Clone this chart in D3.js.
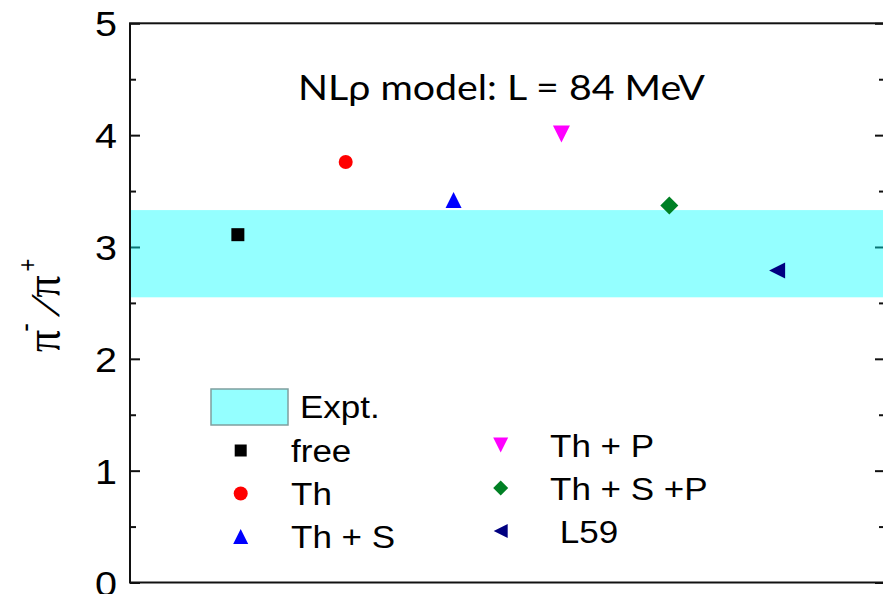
<!DOCTYPE html>
<html>
<head>
<meta charset="utf-8">
<script src="https://cdn.jsdelivr.net/npm/d3@7"></script>
<style>
  html, body { margin: 0; padding: 0; background: #fff; }
  svg { display: block; }
  text { font-family: "Liberation Sans", Arial, sans-serif; fill: #000; }
</style>
</head>
<body>
<svg id="chart" width="883" height="594"></svg>
<script>
// Pion ratio pi-/pi+ for the NLrho model under different treatments
const categories = ["free", "Th", "Th + S", "Th + P", "Th + S +P", "L59"];
const positions = [1, 2, 3, 4, 5, 6];
const ratios = [3.11, 3.76, 3.42, 4.01, 3.37, 2.79];
const symbols = ["square", "circle", "up", "down", "diamond", "left"];
const colors = ["#000000", "#ff0000", "#0000ff", "#ff00ff", "#008024", "#000080"];
const exptBand = [2.55, 3.33];
const yMajorTicks = [0, 1, 2, 3, 4, 5];
const yMinorTicks = [0.5, 1.5, 2.5, 3.5, 4.5];
const titleText = "NLρ model: L = 84 MeV";

// text in this figure is drawn slightly widened
const widen = 1.13;

const svg = d3.select("#chart");

const x = d3.scaleLinear().domain([0, 7]).range([130, 885]);
const y = d3.scaleLinear().domain([0, 5]).range([582.5, 23.3]);

// marker shapes, sized in pixels (s = bounding width)
function markerPath(kind, s) {
  const h = s / 2;
  const p = d3.path();
  if (kind === "square") {
    p.rect(-h, -h, s, s);
  } else if (kind === "circle") {
    p.arc(0, 0, h, 0, 2 * Math.PI);
  } else if (kind === "up") {
    p.moveTo(0, -h); p.lineTo(h, h); p.lineTo(-h, h); p.closePath();
  } else if (kind === "down") {
    p.moveTo(-h, -h); p.lineTo(h, -h); p.lineTo(0, h); p.closePath();
  } else if (kind === "diamond") {
    p.moveTo(0, -h); p.lineTo(h, 0); p.lineTo(0, h); p.lineTo(-h, 0); p.closePath();
  } else if (kind === "left") {
    p.moveTo(-h, 0); p.lineTo(h, -h); p.lineTo(h, h); p.closePath();
  }
  return p.toString();
}
const plotSize = { square: 13, circle: 14, up: 16, down: 17, diamond: 18, left: 16 };
const legendSize = { square: 12, circle: 14, up: 15, down: 15, diamond: 15, left: 14 };

// axes: left with labels, right mirrored, ticks pointing inward
const axisG = svg.append("g");
const leftMajor = d3.axisLeft(y).tickValues(yMajorTicks).tickSizeInner(-10).tickSizeOuter(0).tickPadding(13 / widen).tickFormat(d3.format("d"));
const leftMinor = d3.axisLeft(y).tickValues(yMinorTicks).tickSizeInner(-6).tickSizeOuter(0).tickFormat("");
const rightMajor = d3.axisRight(y).tickValues(yMajorTicks).tickSizeInner(-10).tickSizeOuter(0).tickFormat("");
const rightMinor = d3.axisRight(y).tickValues(yMinorTicks).tickSizeInner(-6).tickSizeOuter(0).tickFormat("");

function styleAxis(g) {
  g.select(".domain").remove();
  g.selectAll(".tick line").attr("stroke", "#111").attr("stroke-width", 2);
  g.selectAll(".tick text")
    .style("font-size", "35px")
    .attr("fill", "#111")
    .attr("dy", "0.36em")
    .attr("transform", `scale(${widen},1)`);
}
axisG.append("g").attr("transform", `translate(${x(0)},0)`).call(leftMajor).call(styleAxis);
axisG.append("g").attr("transform", `translate(${x(0)},0)`).call(leftMinor).call(styleAxis);
axisG.append("g").attr("transform", `translate(${x(7)},0)`).call(rightMajor).call(styleAxis);
axisG.append("g").attr("transform", `translate(${x(7)},0)`).call(rightMinor).call(styleAxis);

// frame
svg.append("rect")
  .attr("x", x(0)).attr("y", y(5))
  .attr("width", x(7) - x(0)).attr("height", y(0) - y(5))
  .attr("fill", "none").attr("stroke", "#111").attr("stroke-width", 2);

// experimental band
svg.append("rect")
  .attr("x", x(0) + 1).attr("y", y(exptBand[1]))
  .attr("width", x(7) - x(0) - 2).attr("height", y(exptBand[0]) - y(exptBand[1]))
  .attr("fill", "#00ffff").attr("fill-opacity", 0.42);

// data points
svg.append("g").selectAll("path")
  .data(positions)
  .join("path")
  .attr("d", (d, i) => markerPath(symbols[i], plotSize[symbols[i]]))
  .attr("transform", (d, i) => `translate(${x(d)},${y(ratios[i])})`)
  .attr("fill", (d, i) => colors[i]);

// title
svg.append("text")
  .attr("transform", `translate(298,100) scale(${widen + 0.01},1)`)
  .style("font-family", "Lato, 'Open Sans', sans-serif")
  .style("font-size", "34.5px")
  .attr("fill", "#111")
  .text(titleText);

// y-axis title pi-/pi+, read bottom to top; each glyph centred on its slot
const yTitle = svg.append("g").attr("fill", "#111");
const yTitleGlyphs = [
  { t: "π", c: 341, base: 60, size: 44, serif: true },
  { t: "-", c: 327.5, base: 35, size: 26 },
  { t: "/", c: 312.5, base: 59, size: 33, skew: -30 },
  { t: "π", c: 286.5, base: 60, size: 44, serif: true },
  { t: "+", c: 265, base: 36, size: 22 }
];
yTitleGlyphs.forEach(g => {
  yTitle.append("text")
    .attr("transform", `translate(${g.base},${g.c}) rotate(-90) scale(1,${widen})` + (g.skew ? ` skewX(${g.skew})` : ""))
    .attr("text-anchor", "middle")
    .style("font-family", g.serif ? "'Liberation Serif', 'Times New Roman', serif" : null)
    .style("font-size", g.size + "px")
    .text(g.t);
});

// legend
const legend = svg.append("g").style("font-size", "31px");
legend.append("rect")
  .attr("x", 211).attr("y", 389).attr("width", 77).attr("height", 36)
  .attr("fill", "#00ffff").attr("fill-opacity", 0.42)
  .attr("stroke", "#7f9f9f").attr("stroke-width", 1.5);
legend.append("text")
  .attr("transform", `translate(300,418) scale(${widen},1)`)
  .text("Expt.");

const rowGap = 43;
categories.forEach((name, i) => {
  const col = i < 3 ? 0 : 1;
  const row = i % 3;
  const mx = col === 0 ? 240.7 : 500.7;
  const my = (col === 0 ? 450.5 : 445) + row * rowGap;
  const tx = col === 0 ? 291 : 550;
  legend.append("path")
    .attr("d", markerPath(symbols[i], legendSize[symbols[i]]))
    .attr("transform", `translate(${mx},${my})`)
    .attr("fill", colors[i]);
  legend.append("text")
    .attr("transform", `translate(${tx},${my + 11.5}) scale(${widen},1)`)
    .style("white-space", "pre")
    .text(name === "L59" ? " " + name : name);
});
</script>
</body>
</html>
